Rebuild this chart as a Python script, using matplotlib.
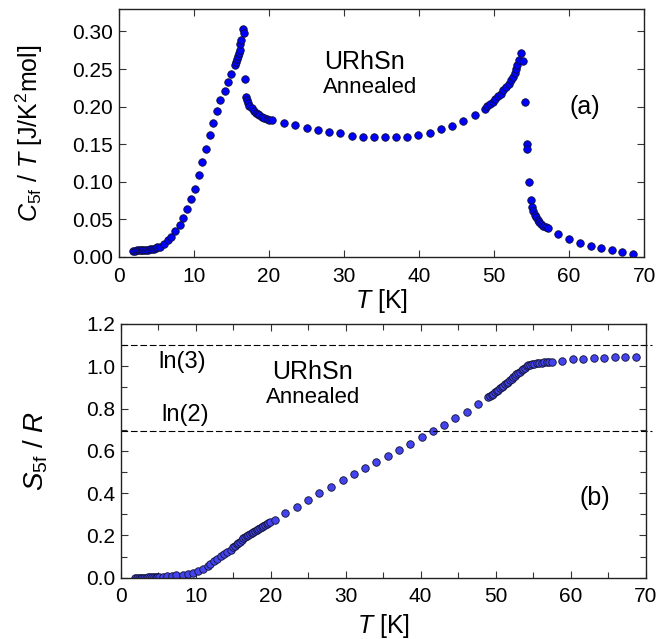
import matplotlib
matplotlib.use('Agg')
import matplotlib.pyplot as plt
import numpy as np

plt.rcParams['font.family'] = ['Liberation Sans', 'DejaVu Sans']
plt.rcParams['mathtext.fontset'] = 'custom'
plt.rcParams['mathtext.rm'] = 'Liberation Sans'
plt.rcParams['mathtext.it'] = 'Liberation Sans:italic'

# (a) C5f/T vs T
t_c = [1.9, 2.15, 2.4, 2.65, 2.9, 3.15, 3.4, 3.65, 3.9, 4.15, 4.4, 4.65, 4.9, 5.15,
       5.5, 6.0, 6.5, 7.0, 7.55, 8.1, 8.6, 9.1, 9.65, 10.1, 10.65, 11.15, 11.6, 12.1,
       12.6, 13.05, 13.55, 14.1, 14.58, 15.02, 15.47, 15.6, 15.73, 15.91, 16.0, 16.09,
       16.22, 16.27, 16.58, 16.67,
       16.8, 17.02, 17.1, 17.24, 17.42, 17.69, 18.04, 18.26, 18.49, 18.75, 19.02, 19.35,
       19.69, 20.02, 20.36,
       22.04, 23.51, 25.02, 26.53, 28.0, 29.47, 31.02, 32.49, 33.96, 35.47, 36.93, 38.44,
       39.91, 41.42, 42.93, 44.44, 45.91, 47.42,
       48.8, 49.11, 49.47, 49.82, 50.18, 50.53, 50.89, 51.24, 51.6, 51.96, 52.22, 52.49,
       52.76, 52.93, 53.11, 53.38, 53.64, 53.91,
       54.13, 54.36, 54.38, 54.62, 54.89, 55.07, 55.24, 55.42, 55.6, 55.82, 56.04, 56.31,
       56.58, 56.89, 57.24,
       58.58, 60.04, 61.47, 62.89, 64.31, 65.73, 67.11, 68.53]
c_t = [0.0084, 0.0084, 0.0085, 0.0086, 0.0087, 0.0089, 0.0091, 0.0094, 0.0097, 0.0101,
       0.0106, 0.0111, 0.0118, 0.0126,
       0.0138, 0.0169, 0.0218, 0.0271, 0.0338, 0.0418, 0.0516, 0.064, 0.0769, 0.0907,
       0.1084, 0.1258, 0.144, 0.1618, 0.1782, 0.1947, 0.2084, 0.2204, 0.2324, 0.244,
       0.256, 0.2591, 0.2636, 0.268, 0.2716, 0.276, 0.2827, 0.2893, 0.3036, 0.2982,
       0.2373, 0.2129, 0.2093, 0.2049, 0.2013, 0.1978, 0.1938, 0.1918, 0.1902, 0.1882,
       0.1862, 0.1848, 0.1836, 0.1827, 0.1818,
       0.1782, 0.1756, 0.172, 0.1693, 0.1662, 0.1649, 0.1604, 0.16, 0.16, 0.1591, 0.1596,
       0.16, 0.1622, 0.1653, 0.1698, 0.1742, 0.1804, 0.1884,
       0.1973, 0.2004, 0.2036, 0.2067, 0.2102, 0.2138, 0.2173, 0.2218, 0.2258, 0.2302,
       0.2351, 0.2396, 0.2449, 0.2502, 0.256, 0.2627, 0.2716, 0.2604,
       0.2062, 0.1507, 0.1436, 0.0996, 0.076, 0.0662, 0.0604, 0.056, 0.0529, 0.0493,
       0.0462, 0.0436, 0.0413, 0.0396, 0.0378,
       0.0307, 0.0236, 0.0191, 0.0151, 0.0116, 0.0089, 0.0067, 0.004]

# (b) S5f/R vs T
t_s = [1.9, 2.15, 2.4, 2.65, 2.9, 3.15, 3.4, 3.65, 3.9, 4.15, 4.4, 4.65, 4.9, 5.15,
       5.66, 6.2, 6.8, 7.43, 8.3, 8.98, 9.65, 10.3, 10.97, 11.6, 11.9, 12.44, 12.88,
       13.33, 13.77, 14.21, 14.67, 15.01, 15.23, 15.46, 15.68, 15.9, 16.12, 16.35, 16.57,
       16.8, 17.02, 17.24, 17.46, 17.69, 17.91, 18.13, 18.35, 18.57, 18.79, 19.01, 19.24,
       19.47, 19.68, 19.9, 20.57,
       21.95, 23.5, 25.0, 26.46, 28.1, 29.6, 31.07, 32.58, 34.1, 35.6, 37.1, 38.6, 40.13,
       41.6, 43.1, 44.6, 46.13, 47.68,
       49.01, 49.24, 49.47, 49.69, 49.9, 50.13, 50.35, 50.58, 50.8, 51.02, 51.24, 51.46,
       51.68, 51.91, 52.13, 52.35, 52.57, 52.79, 53.01, 53.24, 53.47, 53.69, 53.91, 54.13,
       54.35, 54.58, 54.8, 55.13, 55.47, 55.8, 56.13, 56.47, 56.8, 57.13, 57.47,
       58.8, 60.27, 61.69, 63.1, 64.5, 65.9, 67.33, 68.76]
s_r = [0.0, 0.0001, 0.0002, 0.0003, 0.0004, 0.0005, 0.0007, 0.0009, 0.0011, 0.0013,
       0.0016, 0.0019, 0.0022, 0.0026,
       0.005, 0.007, 0.009, 0.011, 0.014, 0.019, 0.024, 0.032, 0.043, 0.055, 0.065, 0.079,
       0.09, 0.101, 0.111, 0.122, 0.132, 0.144, 0.151, 0.158, 0.164, 0.17, 0.178, 0.186,
       0.193, 0.199, 0.204, 0.208, 0.213, 0.218, 0.222, 0.227, 0.232, 0.237, 0.241, 0.246,
       0.25, 0.254, 0.258, 0.262, 0.273,
       0.308, 0.336, 0.368, 0.399, 0.43, 0.46, 0.49, 0.52, 0.549, 0.577, 0.606, 0.634,
       0.664, 0.694, 0.722, 0.754, 0.785, 0.822,
       0.853, 0.858, 0.864, 0.871, 0.877, 0.883, 0.889, 0.895, 0.902, 0.908, 0.915, 0.921,
       0.927, 0.934, 0.941, 0.948, 0.956, 0.962, 0.968, 0.975, 0.981, 0.987, 0.993, 0.999,
       1.005, 1.008, 1.011, 1.013, 1.014, 1.016, 1.017, 1.019, 1.02, 1.021, 1.022,
       1.027, 1.033, 1.036, 1.039, 1.041, 1.043, 1.044, 1.046]

ln_levels = [np.log(3), np.log(2)]
ln_labels = ['ln(3)', 'ln(2)']

fig = plt.figure(figsize=(6.56, 6.39), dpi=100)
ax1 = fig.add_axes([0.181, 0.598, 0.801, 0.388])
ax2 = fig.add_axes([0.184, 0.096, 0.800, 0.397])

ax1.plot(t_c, c_t, 'o', ms=5.4, mfc='#0000ff', mec='#101030', mew=0.6, ls='none')
ax2.plot(t_s, s_r, 'o', ms=5.4, mfc='#4444ee', mec='#101030', mew=0.6, ls='none')

for lvl in ln_levels:
    ax2.plot([0, 70.9], [lvl, lvl], color='black', lw=0.8, ls=(0, (6, 2.5)), clip_on=False)
ax2.text(5.0, 1.02, ln_labels[0], fontsize=17, ha='left', va='center')
ax2.text(5.4, 0.77, ln_labels[1], fontsize=17, ha='left', va='center')

ax1.text(32.7, 0.26, 'URhSn', fontsize=18, ha='center', va='center')
ax1.text(33.5, 0.225, 'Annealed', fontsize=16, ha='center', va='center')
ax1.text(62.1, 0.199, '(a)', fontsize=18, ha='center', va='center')

ax2.text(25.6, 0.973, 'URhSn', fontsize=18, ha='center', va='center')
ax2.text(25.6, 0.85, 'Annealed', fontsize=16, ha='center', va='center')
ax2.text(63.2, 0.377, '(b)', fontsize=18, ha='center', va='center')

ax1.set_xlim(0, 70)
ax1.set_ylim(0, 0.33)
ax1.set_xticks(np.arange(0, 71, 10))
ax1.set_yticks(np.arange(0, 0.31, 0.05))
ax1.set_yticklabels([f'{v:.2f}' for v in np.arange(0, 0.31, 0.05)])
ax1.set_xlabel(r'$T$ [K]', fontsize=18)
ax1.set_ylabel(r'$C_{\rm 5f}$ / $T$ [J/K$^2$mol]', fontsize=18)
ax1.xaxis.set_label_coords(0.5, -0.12)
ax1.yaxis.set_label_coords(-0.141, 0.5)

ax2.set_xlim(0, 70)
ax2.set_ylim(0, 1.2)
ax2.set_xticks(np.arange(0, 71, 10))
ax2.set_xticks(np.arange(0, 71, 5), minor=True)
ax2.set_yticks(np.arange(0, 1.21, 0.2))
ax2.set_yticks(np.arange(0, 1.21, 0.1), minor=True)
ax2.set_yticklabels([f'{v:.1f}' for v in np.arange(0, 1.21, 0.2)])
ax2.set_xlabel(r'$T$ [K]', fontsize=18)
ax2.set_ylabel(r'$S_{\rm 5f}$ / $R$', fontsize=20)
ax2.xaxis.set_label_coords(0.5, -0.135)
ax2.yaxis.set_label_coords(-0.135, 0.5)

for ax in (ax1, ax2):
    ax.tick_params(which='both', direction='in', top=True, right=True, labelsize=15,
                   width=0.8, color='#333333')
    ax.tick_params(which='major', length=5, pad=4)
    ax.tick_params(which='minor', length=4)
    ax.tick_params(axis='x', which='major', pad=7)
    for sp in ax.spines.values():
        sp.set_linewidth(1.0)
        sp.set_color('#222222')

fig.savefig('out.png', dpi=100)
